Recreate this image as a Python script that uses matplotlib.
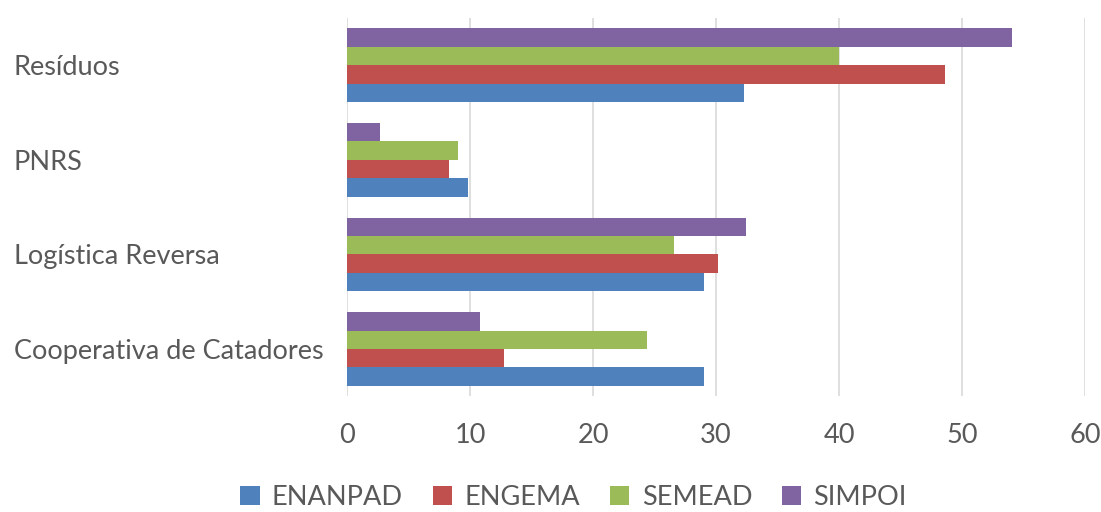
import matplotlib
matplotlib.use("Agg")
import matplotlib.pyplot as plt
import numpy as np

categories = ["Cooperativa de Catadores", "Logística Reversa", "PNRS", "Resíduos"]
series_names = ["ENANPAD", "ENGEMA", "SEMEAD", "SIMPOI"]
enanpad = [29.0, 29.0, 9.8, 32.3]
engema = [12.8, 30.2, 8.3, 48.6]
semead = [24.4, 26.6, 9.0, 40.0]
simpoi = [10.8, 32.4, 2.7, 54.1]
xticks = [0, 10, 20, 30, 40, 50, 60]

colors = ["#4f81bd", "#c0504d", "#9bbb59", "#8064a2"]
plt.rcParams['font.family'] = ['Lato', 'DejaVu Sans']
FS = 19.5

fig = plt.figure(figsize=(11.01, 5.12), dpi=100)
ax = fig.add_axes([0.3152, 0.226, 0.6703, 0.739])

y = np.arange(len(categories))
h = 0.195
data = [enanpad, engema, semead, simpoi]
for i, (vals, name, c) in enumerate(zip(data, series_names, colors)):
    ax.barh(y + (i - 1.5) * h, vals, height=h, color=c, label=name, zorder=3)

ax.set_xlim(0, 60)
ax.set_ylim(-0.5, 3.5)
ax.set_xticks(xticks)
ax.set_xticklabels([str(t) for t in xticks])
ax.set_yticks(y)
ax.set_yticklabels(categories)
ax.grid(axis='x', color='#d9d9d9', linewidth=1.2, zorder=0)
for s in ax.spines.values():
    s.set_visible(False)
ax.tick_params(axis='both', length=0, labelsize=FS, labelcolor='#595959')
ax.tick_params(axis='x', pad=19)
ax.tick_params(axis='y', pad=240)
for lab in ax.get_yticklabels():
    lab.set_ha('left')

leg = fig.legend(loc='center', bbox_to_anchor=(0.521, 0.029), ncol=4, frameon=False,
                 fontsize=FS, handlelength=0.72, handleheight=0.72, handletextpad=0.45,
                 columnspacing=1.1, labelcolor='#595959')
fig.savefig("out.png", dpi=100)
